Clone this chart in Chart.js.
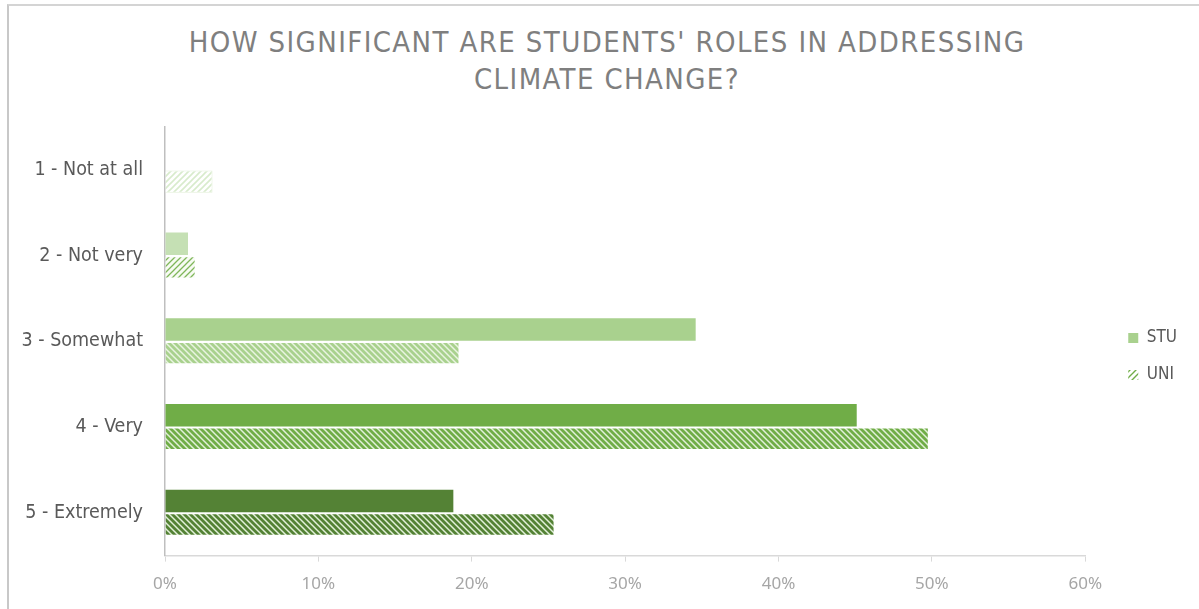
<!DOCTYPE html>
<html>
<head>
<meta charset="utf-8">
<script src="https://cdn.jsdelivr.net/npm/chart.js@4.4.1/dist/chart.umd.min.js"></script>
<style>
    html, body { margin: 0; background: #fff; overflow: hidden; }
    #wrap { position: relative; width: 1199px; height: 609px; overflow: hidden; }
    #frame { position: absolute; left: 7px; top: 4px; width: 1400px; height: 800px; border-left: 2px solid #c8c8c8; border-top: 2px solid #d4d4d4; }
    #title {
        position: absolute; top: 24px; left: 0; width: 1214px; text-align: center;
        font-family: 'DejaVu Sans Condensed', sans-serif;
        font-size: 29px; letter-spacing: 1.4px; line-height: 37px; color: #7f7f7f;
    }
    #c { position: absolute; left: 0; top: 0; }
</style>
</head>
<body>
<div id="wrap">
    <div id="frame"></div>
    <div id="title">HOW SIGNIFICANT ARE STUDENTS' ROLES IN ADDRESSING<br>CLIMATE CHANGE?</div>
    <canvas id="c" width="1199" height="609"></canvas>
</div>
<script>
// Data
const categories = ['1 - Not at all', '2 - Not very', '3 - Somewhat', '4 - Very', '5 - Extremely'];
const stuValues = [0, 1.5, 34.6, 45.1, 18.8];
const uniValues = [3.1, 2.0, 19.2, 49.8, 25.4];
const xTickValues = [0, 10, 20, 30, 40, 50, 60];

const labelFont = "'DejaVu Sans Condensed', sans-serif";

const canvas = document.getElementById('c');
const ctx = canvas.getContext('2d');

// diagonal hatch fill; back = "\" direction, otherwise "/"
function makeHatch(fg, bg, back, lw) {
    const s = 6;
    const t = document.createElement('canvas');
    t.width = s; t.height = s;
    const x = t.getContext('2d');
    x.fillStyle = bg;
    x.fillRect(0, 0, s, s);
    x.strokeStyle = fg;
    x.lineWidth = lw;
    x.beginPath();
    if (back) {
        x.moveTo(-s, -s); x.lineTo(2 * s, 2 * s);
        x.moveTo(-s, 0); x.lineTo(s, 2 * s);
        x.moveTo(0, -s); x.lineTo(2 * s, s);
    } else {
        x.moveTo(-s, 2 * s); x.lineTo(2 * s, -s);
        x.moveTo(-s, s); x.lineTo(s, -s);
        x.moveTo(0, 2 * s); x.lineTo(2 * s, 0);
    }
    x.stroke();
    return ctx.createPattern(t, 'repeat');
}

const stuColors = ['#e2f0d9', '#c5e0b4', '#a9d18e', '#70ad47', '#548235'];
const uniFills = [
    makeHatch('#d8ebcc', '#ffffff', false, 1.6),
    makeHatch('#7fb65a', '#f7fbf3', false, 1.3),
    makeHatch('#a9d18e', '#e9f4e1', true, 2.8),
    makeHatch('#70ad47', '#e2f0d9', true, 2.8),
    makeHatch('#548235', '#e2f0d9', true, 2.8)
];
const legendHatch = makeHatch('#70ad47', '#ffffff', false, 1.4);

// nudge the legend right and up, like the original
const legendShift = {
    id: 'legendShift',
    afterLayout(chart) {
        const lg = chart.legend;
        lg.left += 23; lg.right += 23;
        lg.top -= 10; lg.bottom -= 10;
    }
};

new Chart(ctx, {
    type: 'bar',
    data: {
        labels: categories,
        datasets: [
            {
                label: 'STU',
                data: stuValues,
                backgroundColor: stuColors,
                borderWidth: 0,
                categoryPercentage: 0.55,
                barPercentage: 0.95
            },
            {
                label: 'UNI',
                data: uniValues,
                backgroundColor: uniFills,
                borderColor: ['#e2f0d9', 'rgba(0,0,0,0)', 'rgba(0,0,0,0)', 'rgba(0,0,0,0)', 'rgba(0,0,0,0)'],
                borderWidth: 1,
                categoryPercentage: 0.55,
                barPercentage: 0.95
            }
        ]
    },
    options: {
        indexAxis: 'y',
        responsive: false,
        animation: false,
        layout: { padding: { top: 127, bottom: 3, left: 0, right: 35 } },
        scales: {
            x: {
                min: 0,
                max: 60,
                afterBuildTicks: (s) => { s.ticks = xTickValues.map(v => ({ value: v })); },
                grid: { drawOnChartArea: false, drawTicks: true, tickLength: 6, color: '#d9d9d9' },
                border: { display: true, color: '#d9d9d9', width: 1.5 },
                ticks: {
                    color: '#a6a6a6',
                    padding: 12,
                    font: { family: "'Noto Sans', sans-serif", size: 17 },
                    callback: (v) => v + '%'
                }
            },
            y: {
                afterFit: (s) => { s.width = 165; },
                grid: { display: false },
                border: { display: true, color: '#bfbfbf', width: 1.5 },
                ticks: {
                    color: '#595959',
                    padding: 14,
                    font: { family: labelFont, size: 19.5 }
                }
            }
        },
        plugins: {
            tooltip: { enabled: false },
            legend: {
                position: 'right',
                labels: {
                    color: '#595959',
                    boxWidth: 10,
                    boxHeight: 10,
                    padding: 20,
                    font: { family: labelFont, size: 17 },
                    generateLabels: () => [
                        { text: 'STU', fillStyle: '#a9d18e', strokeStyle: '#a9d18e', lineWidth: 0, fontColor: '#595959', datasetIndex: 0 },
                        { text: 'UNI', fillStyle: legendHatch, strokeStyle: '#ffffff', lineWidth: 0, fontColor: '#595959', datasetIndex: 1 }
                    ]
                }
            }
        }
    },
    plugins: [legendShift]
});
</script>
</body>
</html>
